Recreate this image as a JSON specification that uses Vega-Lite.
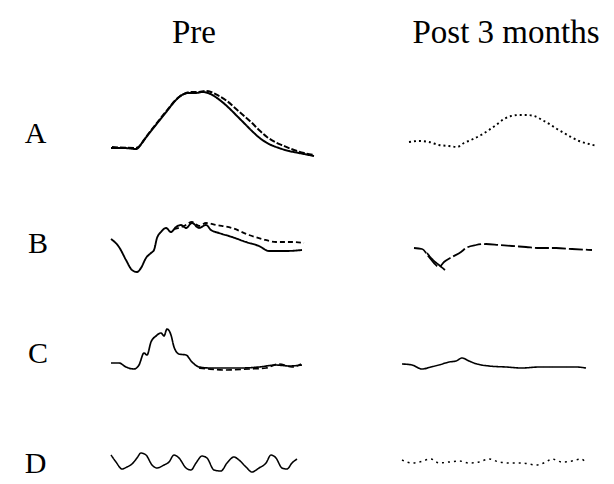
{
  "$schema": "https://vega.github.io/schema/vega-lite/v6.json",
  "padding": {"left": 24, "top": 17, "right": 0, "bottom": 0},
  "background": "white",
  "bounds": "flush",
  "datasets": {
    "traces": [
      {"row":"A","period":"Pre","trace":"A pre 1","t":22,"v":6},{"row":"A","period":"Pre","trace":"A pre 1","t":35,"v":6},{"row":"A","period":"Pre","trace":"A pre 1","t":47,"v":5},{"row":"A","period":"Pre","trace":"A pre 1","t":55,"v":14},{"row":"A","period":"Pre","trace":"A pre 1","t":62,"v":23},{"row":"A","period":"Pre","trace":"A pre 1","t":70,"v":33},{"row":"A","period":"Pre","trace":"A pre 1","t":78,"v":43},{"row":"A","period":"Pre","trace":"A pre 1","t":86,"v":53},{"row":"A","period":"Pre","trace":"A pre 1","t":93,"v":59},{"row":"A","period":"Pre","trace":"A pre 1","t":100,"v":61},{"row":"A","period":"Pre","trace":"A pre 1","t":107,"v":61},{"row":"A","period":"Pre","trace":"A pre 1","t":113,"v":62},{"row":"A","period":"Pre","trace":"A pre 1","t":119,"v":61},{"row":"A","period":"Pre","trace":"A pre 1","t":125,"v":58},{"row":"A","period":"Pre","trace":"A pre 1","t":132,"v":53},{"row":"A","period":"Pre","trace":"A pre 1","t":140,"v":46},{"row":"A","period":"Pre","trace":"A pre 1","t":148,"v":38},{"row":"A","period":"Pre","trace":"A pre 1","t":156,"v":30},{"row":"A","period":"Pre","trace":"A pre 1","t":164,"v":22},{"row":"A","period":"Pre","trace":"A pre 1","t":172,"v":15},{"row":"A","period":"Pre","trace":"A pre 1","t":180,"v":10},{"row":"A","period":"Pre","trace":"A pre 1","t":190,"v":6},{"row":"A","period":"Pre","trace":"A pre 1","t":200,"v":3},{"row":"A","period":"Pre","trace":"A pre 1","t":210,"v":1},{"row":"A","period":"Pre","trace":"A pre 1","t":220,"v":-1},{"row":"A","period":"Pre","trace":"A pre 1","t":225,"v":-2},
      {"row":"A","period":"Pre","trace":"A pre 2","t":23,"v":7},{"row":"A","period":"Pre","trace":"A pre 2","t":47,"v":6},{"row":"A","period":"Pre","trace":"A pre 2","t":60,"v":21},{"row":"A","period":"Pre","trace":"A pre 2","t":75,"v":40},{"row":"A","period":"Pre","trace":"A pre 2","t":90,"v":57},{"row":"A","period":"Pre","trace":"A pre 2","t":102,"v":62},{"row":"A","period":"Pre","trace":"A pre 2","t":110,"v":62},{"row":"A","period":"Pre","trace":"A pre 2","t":116,"v":63},{"row":"A","period":"Pre","trace":"A pre 2","t":122,"v":62},{"row":"A","period":"Pre","trace":"A pre 2","t":130,"v":58},{"row":"A","period":"Pre","trace":"A pre 2","t":138,"v":53},{"row":"A","period":"Pre","trace":"A pre 2","t":146,"v":46},{"row":"A","period":"Pre","trace":"A pre 2","t":154,"v":39},{"row":"A","period":"Pre","trace":"A pre 2","t":162,"v":32},{"row":"A","period":"Pre","trace":"A pre 2","t":170,"v":24},{"row":"A","period":"Pre","trace":"A pre 2","t":178,"v":17},{"row":"A","period":"Pre","trace":"A pre 2","t":186,"v":12},{"row":"A","period":"Pre","trace":"A pre 2","t":195,"v":8},{"row":"A","period":"Pre","trace":"A pre 2","t":205,"v":4},{"row":"A","period":"Pre","trace":"A pre 2","t":215,"v":1},{"row":"A","period":"Pre","trace":"A pre 2","t":225,"v":-1},
      {"row":"A","period":"Post 3 months","trace":"A post","t":8,"v":12},{"row":"A","period":"Post 3 months","trace":"A post","t":18,"v":13},{"row":"A","period":"Post 3 months","trace":"A post","t":28,"v":12},{"row":"A","period":"Post 3 months","trace":"A post","t":38,"v":9},{"row":"A","period":"Post 3 months","trace":"A post","t":48,"v":8},{"row":"A","period":"Post 3 months","trace":"A post","t":56,"v":7},{"row":"A","period":"Post 3 months","trace":"A post","t":63,"v":11},{"row":"A","period":"Post 3 months","trace":"A post","t":70,"v":14},{"row":"A","period":"Post 3 months","trace":"A post","t":80,"v":19},{"row":"A","period":"Post 3 months","trace":"A post","t":88,"v":24},{"row":"A","period":"Post 3 months","trace":"A post","t":95,"v":29},{"row":"A","period":"Post 3 months","trace":"A post","t":103,"v":35},{"row":"A","period":"Post 3 months","trace":"A post","t":110,"v":38},{"row":"A","period":"Post 3 months","trace":"A post","t":118,"v":39},{"row":"A","period":"Post 3 months","trace":"A post","t":126,"v":39},{"row":"A","period":"Post 3 months","trace":"A post","t":133,"v":38},{"row":"A","period":"Post 3 months","trace":"A post","t":143,"v":33},{"row":"A","period":"Post 3 months","trace":"A post","t":150,"v":29},{"row":"A","period":"Post 3 months","trace":"A post","t":156,"v":25},{"row":"A","period":"Post 3 months","trace":"A post","t":163,"v":21},{"row":"A","period":"Post 3 months","trace":"A post","t":170,"v":17},{"row":"A","period":"Post 3 months","trace":"A post","t":178,"v":13},{"row":"A","period":"Post 3 months","trace":"A post","t":188,"v":10},{"row":"A","period":"Post 3 months","trace":"A post","t":196,"v":8},
      {"row":"B","period":"Pre","trace":"B pre 1","t":22,"v":25},{"row":"B","period":"Pre","trace":"B pre 1","t":30,"v":17},{"row":"B","period":"Pre","trace":"B pre 1","t":37,"v":4},{"row":"B","period":"Pre","trace":"B pre 1","t":43,"v":-6},{"row":"B","period":"Pre","trace":"B pre 1","t":48,"v":-8},{"row":"B","period":"Pre","trace":"B pre 1","t":52,"v":-4},{"row":"B","period":"Pre","trace":"B pre 1","t":57,"v":6},{"row":"B","period":"Pre","trace":"B pre 1","t":62,"v":11},{"row":"B","period":"Pre","trace":"B pre 1","t":65,"v":14},{"row":"B","period":"Pre","trace":"B pre 1","t":68,"v":26},{"row":"B","period":"Pre","trace":"B pre 1","t":72,"v":32},{"row":"B","period":"Pre","trace":"B pre 1","t":77,"v":36},{"row":"B","period":"Pre","trace":"B pre 1","t":82,"v":32},{"row":"B","period":"Pre","trace":"B pre 1","t":87,"v":37},{"row":"B","period":"Pre","trace":"B pre 1","t":92,"v":39},{"row":"B","period":"Pre","trace":"B pre 1","t":97,"v":36},{"row":"B","period":"Pre","trace":"B pre 1","t":103,"v":41},{"row":"B","period":"Pre","trace":"B pre 1","t":110,"v":36},{"row":"B","period":"Pre","trace":"B pre 1","t":117,"v":39},{"row":"B","period":"Pre","trace":"B pre 1","t":122,"v":34},{"row":"B","period":"Pre","trace":"B pre 1","t":130,"v":31},{"row":"B","period":"Pre","trace":"B pre 1","t":143,"v":27},{"row":"B","period":"Pre","trace":"B pre 1","t":157,"v":22},{"row":"B","period":"Pre","trace":"B pre 1","t":170,"v":18},{"row":"B","period":"Pre","trace":"B pre 1","t":180,"v":13},{"row":"B","period":"Pre","trace":"B pre 1","t":197,"v":13},{"row":"B","period":"Pre","trace":"B pre 1","t":213,"v":14},
      {"row":"B","period":"Pre","trace":"B pre 2","t":85,"v":35},{"row":"B","period":"Pre","trace":"B pre 2","t":95,"v":38},{"row":"B","period":"Pre","trace":"B pre 2","t":103,"v":42},{"row":"B","period":"Pre","trace":"B pre 2","t":110,"v":38},{"row":"B","period":"Pre","trace":"B pre 2","t":117,"v":41},{"row":"B","period":"Pre","trace":"B pre 2","t":127,"v":39},{"row":"B","period":"Pre","trace":"B pre 2","t":143,"v":36},{"row":"B","period":"Pre","trace":"B pre 2","t":160,"v":29},{"row":"B","period":"Pre","trace":"B pre 2","t":173,"v":25},{"row":"B","period":"Pre","trace":"B pre 2","t":187,"v":22},{"row":"B","period":"Pre","trace":"B pre 2","t":203,"v":22},{"row":"B","period":"Pre","trace":"B pre 2","t":215,"v":21},
      {"row":"B","period":"Post 3 months","trace":"B post 1","t":13,"v":16},{"row":"B","period":"Post 3 months","trace":"B post 1","t":21,"v":15},{"row":"B","period":"Post 3 months","trace":"B post 1","t":28,"v":7},{"row":"B","period":"Post 3 months","trace":"B post 1","t":33,"v":1},{"row":"B","period":"Post 3 months","trace":"B post 1","t":38,"v":-3},{"row":"B","period":"Post 3 months","trace":"B post 1","t":43,"v":2},{"row":"B","period":"Post 3 months","trace":"B post 1","t":51,"v":7},{"row":"B","period":"Post 3 months","trace":"B post 1","t":60,"v":12},{"row":"B","period":"Post 3 months","trace":"B post 1","t":65,"v":16},{"row":"B","period":"Post 3 months","trace":"B post 1","t":75,"v":19},{"row":"B","period":"Post 3 months","trace":"B post 1","t":85,"v":20},{"row":"B","period":"Post 3 months","trace":"B post 1","t":98,"v":19},{"row":"B","period":"Post 3 months","trace":"B post 1","t":111,"v":18},{"row":"B","period":"Post 3 months","trace":"B post 1","t":125,"v":17},{"row":"B","period":"Post 3 months","trace":"B post 1","t":138,"v":16},{"row":"B","period":"Post 3 months","trace":"B post 1","t":155,"v":16},{"row":"B","period":"Post 3 months","trace":"B post 1","t":171,"v":15},{"row":"B","period":"Post 3 months","trace":"B post 1","t":191,"v":14},
      {"row":"B","period":"Post 3 months","trace":"B post 2","t":26,"v":11},{"row":"B","period":"Post 3 months","trace":"B post 2","t":32,"v":4},{"row":"B","period":"Post 3 months","trace":"B post 2","t":38,"v":-1},{"row":"B","period":"Post 3 months","trace":"B post 2","t":44,"v":-6},
      {"row":"C","period":"Pre","trace":"C pre 1","t":22,"v":11},{"row":"C","period":"Pre","trace":"C pre 1","t":30,"v":11},{"row":"C","period":"Pre","trace":"C pre 1","t":37,"v":7},{"row":"C","period":"Pre","trace":"C pre 1","t":45,"v":5},{"row":"C","period":"Pre","trace":"C pre 1","t":50,"v":9},{"row":"C","period":"Pre","trace":"C pre 1","t":55,"v":21},{"row":"C","period":"Pre","trace":"C pre 1","t":58,"v":19},{"row":"C","period":"Pre","trace":"C pre 1","t":62,"v":32},{"row":"C","period":"Pre","trace":"C pre 1","t":67,"v":38},{"row":"C","period":"Pre","trace":"C pre 1","t":72,"v":41},{"row":"C","period":"Pre","trace":"C pre 1","t":75,"v":38},{"row":"C","period":"Pre","trace":"C pre 1","t":78,"v":45},{"row":"C","period":"Pre","trace":"C pre 1","t":82,"v":39},{"row":"C","period":"Pre","trace":"C pre 1","t":85,"v":27},{"row":"C","period":"Pre","trace":"C pre 1","t":90,"v":20},{"row":"C","period":"Pre","trace":"C pre 1","t":97,"v":19},{"row":"C","period":"Pre","trace":"C pre 1","t":103,"v":12},{"row":"C","period":"Pre","trace":"C pre 1","t":110,"v":7},{"row":"C","period":"Pre","trace":"C pre 1","t":120,"v":6},{"row":"C","period":"Pre","trace":"C pre 1","t":137,"v":6},{"row":"C","period":"Pre","trace":"C pre 1","t":153,"v":6},{"row":"C","period":"Pre","trace":"C pre 1","t":170,"v":7},{"row":"C","period":"Pre","trace":"C pre 1","t":187,"v":9},{"row":"C","period":"Pre","trace":"C pre 1","t":200,"v":8},{"row":"C","period":"Pre","trace":"C pre 1","t":213,"v":9},
      {"row":"C","period":"Pre","trace":"C pre 2","t":110,"v":6},{"row":"C","period":"Pre","trace":"C pre 2","t":120,"v":5},{"row":"C","period":"Pre","trace":"C pre 2","t":137,"v":4},{"row":"C","period":"Pre","trace":"C pre 2","t":160,"v":5},{"row":"C","period":"Pre","trace":"C pre 2","t":177,"v":6},{"row":"C","period":"Pre","trace":"C pre 2","t":190,"v":10},{"row":"C","period":"Pre","trace":"C pre 2","t":203,"v":7},{"row":"C","period":"Pre","trace":"C pre 2","t":212,"v":10},
      {"row":"C","period":"Post 3 months","trace":"C post","t":1,"v":10},{"row":"C","period":"Post 3 months","trace":"C post","t":11,"v":9},{"row":"C","period":"Post 3 months","trace":"C post","t":21,"v":5},{"row":"C","period":"Post 3 months","trace":"C post","t":30,"v":7},{"row":"C","period":"Post 3 months","trace":"C post","t":38,"v":9},{"row":"C","period":"Post 3 months","trace":"C post","t":48,"v":12},{"row":"C","period":"Post 3 months","trace":"C post","t":55,"v":13},{"row":"C","period":"Post 3 months","trace":"C post","t":61,"v":16},{"row":"C","period":"Post 3 months","trace":"C post","t":68,"v":13},{"row":"C","period":"Post 3 months","trace":"C post","t":76,"v":10},{"row":"C","period":"Post 3 months","trace":"C post","t":88,"v":8},{"row":"C","period":"Post 3 months","trace":"C post","t":105,"v":7},{"row":"C","period":"Post 3 months","trace":"C post","t":121,"v":6},{"row":"C","period":"Post 3 months","trace":"C post","t":138,"v":7},{"row":"C","period":"Post 3 months","trace":"C post","t":155,"v":7},{"row":"C","period":"Post 3 months","trace":"C post","t":175,"v":7},{"row":"C","period":"Post 3 months","trace":"C post","t":185,"v":6},
      {"row":"D","period":"Pre","trace":"D pre","t":22,"v":29},{"row":"D","period":"Pre","trace":"D pre","t":27,"v":22},{"row":"D","period":"Pre","trace":"D pre","t":33,"v":15},{"row":"D","period":"Pre","trace":"D pre","t":38,"v":17},{"row":"D","period":"Pre","trace":"D pre","t":43,"v":20},{"row":"D","period":"Pre","trace":"D pre","t":48,"v":26},{"row":"D","period":"Pre","trace":"D pre","t":52,"v":31},{"row":"D","period":"Pre","trace":"D pre","t":57,"v":29},{"row":"D","period":"Pre","trace":"D pre","t":63,"v":19},{"row":"D","period":"Pre","trace":"D pre","t":68,"v":16},{"row":"D","period":"Pre","trace":"D pre","t":75,"v":19},{"row":"D","period":"Pre","trace":"D pre","t":80,"v":22},{"row":"D","period":"Pre","trace":"D pre","t":85,"v":29},{"row":"D","period":"Pre","trace":"D pre","t":90,"v":26},{"row":"D","period":"Pre","trace":"D pre","t":97,"v":16},{"row":"D","period":"Pre","trace":"D pre","t":102,"v":14},{"row":"D","period":"Pre","trace":"D pre","t":107,"v":21},{"row":"D","period":"Pre","trace":"D pre","t":113,"v":28},{"row":"D","period":"Pre","trace":"D pre","t":118,"v":26},{"row":"D","period":"Pre","trace":"D pre","t":125,"v":14},{"row":"D","period":"Pre","trace":"D pre","t":132,"v":13},{"row":"D","period":"Pre","trace":"D pre","t":138,"v":21},{"row":"D","period":"Pre","trace":"D pre","t":145,"v":27},{"row":"D","period":"Pre","trace":"D pre","t":150,"v":24},{"row":"D","period":"Pre","trace":"D pre","t":157,"v":17},{"row":"D","period":"Pre","trace":"D pre","t":163,"v":12},{"row":"D","period":"Pre","trace":"D pre","t":170,"v":16},{"row":"D","period":"Pre","trace":"D pre","t":177,"v":21},{"row":"D","period":"Pre","trace":"D pre","t":182,"v":29},{"row":"D","period":"Pre","trace":"D pre","t":187,"v":26},{"row":"D","period":"Pre","trace":"D pre","t":193,"v":16},{"row":"D","period":"Pre","trace":"D pre","t":198,"v":15},{"row":"D","period":"Pre","trace":"D pre","t":203,"v":21},{"row":"D","period":"Pre","trace":"D pre","t":208,"v":25},
      {"row":"D","period":"Post 3 months","trace":"D post","t":1,"v":24},{"row":"D","period":"Post 3 months","trace":"D post","t":11,"v":21},{"row":"D","period":"Post 3 months","trace":"D post","t":18,"v":22},{"row":"D","period":"Post 3 months","trace":"D post","t":30,"v":25},{"row":"D","period":"Post 3 months","trace":"D post","t":38,"v":21},{"row":"D","period":"Post 3 months","trace":"D post","t":48,"v":22},{"row":"D","period":"Post 3 months","trace":"D post","t":58,"v":23},{"row":"D","period":"Post 3 months","trace":"D post","t":68,"v":21},{"row":"D","period":"Post 3 months","trace":"D post","t":78,"v":22},{"row":"D","period":"Post 3 months","trace":"D post","t":88,"v":25},{"row":"D","period":"Post 3 months","trace":"D post","t":98,"v":22},{"row":"D","period":"Post 3 months","trace":"D post","t":108,"v":21},{"row":"D","period":"Post 3 months","trace":"D post","t":121,"v":21},{"row":"D","period":"Post 3 months","trace":"D post","t":135,"v":19},{"row":"D","period":"Post 3 months","trace":"D post","t":145,"v":22},{"row":"D","period":"Post 3 months","trace":"D post","t":151,"v":25},{"row":"D","period":"Post 3 months","trace":"D post","t":161,"v":22},{"row":"D","period":"Post 3 months","trace":"D post","t":171,"v":23},{"row":"D","period":"Post 3 months","trace":"D post","t":180,"v":25},{"row":"D","period":"Post 3 months","trace":"D post","t":185,"v":21}
    ]
  },
  "data": {"name": "traces"},
  "facet": {
    "row": {"field": "row", "type": "nominal", "sort": ["A","B","C","D"], "title": null,
      "header": {"labelOrient": "left", "labelAngle": 0, "labelFont": "Liberation Serif", "labelFontSize": 30, "labelColor": "black", "labelPadding": 21, "labelBaseline": "middle"}},
    "column": {"field": "period", "type": "nominal", "sort": ["Pre","Post 3 months"], "title": null,
      "header": {"labelOrient": "top", "labelFont": "Liberation Serif", "labelFontSize": 33, "labelColor": "black", "labelPadding": 64}}
  },
  "spacing": {"row": 70, "column": 102},
  "spec": {
    "width": 210,
    "height": 40,
    "mark": {"type": "line", "interpolate": "monotone", "color": "black", "clip": false},
    "encoding": {
      "x": {"field": "t", "type": "quantitative", "scale": {"domain": [0, 210], "nice": false, "zero": false}, "axis": null},
      "y": {"field": "v", "type": "quantitative", "scale": {"domain": [0, 40], "nice": false, "zero": false}, "axis": null},
      "detail": {"field": "trace"},
      "strokeDash": {"field": "trace", "type": "nominal", "legend": null,
        "scale": {"domain": ["A pre 1","A pre 2","A post","B pre 1","B pre 2","B post 1","B post 2","C pre 1","C pre 2","C post","D pre","D post"],
                  "range": [[1,0],[6,2],[2,3],[1,0],[5,3],[14,3],[1,0],[1,0],[6,3],[1,0],[1,0],[2,4]]}},
      "strokeWidth": {"field": "trace", "type": "nominal", "legend": null,
        "scale": {"domain": ["A pre 1","A pre 2","A post","B pre 1","B pre 2","B post 1","B post 2","C pre 1","C pre 2","C post","D pre","D post"],
                  "range": [2,1.5,1.7,2,1.6,1.9,1.3,2,1.6,3,1.6,1.7]}}
    }
  },
  "config": {"view": {"stroke": null}}
}
